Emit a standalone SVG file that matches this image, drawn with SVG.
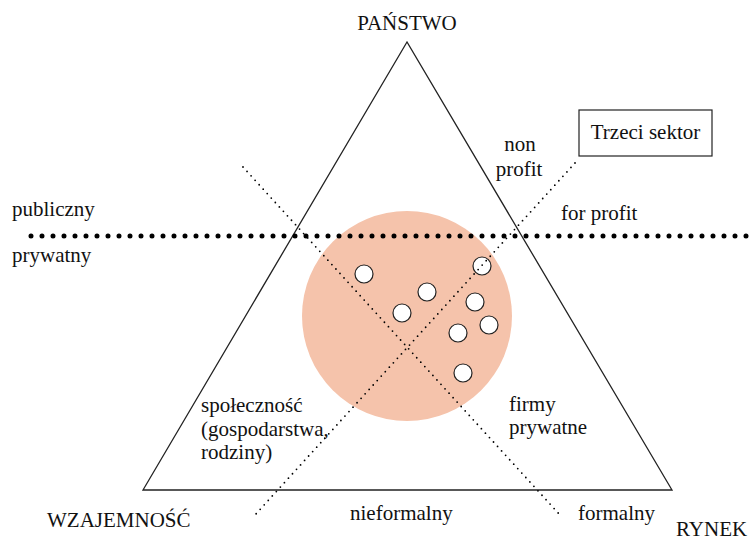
<svg xmlns="http://www.w3.org/2000/svg" width="755" height="543" viewBox="0 0 755 543">
<style>
text{font-family:"Liberation Serif","DejaVu Serif",serif;font-size:21px;fill:#111}
.mid{text-anchor:middle}
.tri{fill:none;stroke:#222;stroke-width:1.3}
.bigdots{fill:none;stroke:#000;stroke-width:5;stroke-linecap:round;stroke-dasharray:0 11}
.smalldots{fill:none;stroke:#000;stroke-width:1.8;stroke-linecap:round;stroke-dasharray:0 6}
.dot{fill:#fff;stroke:#222;stroke-width:1.2}
</style>
<rect width="755" height="543" fill="#fff"/>
<g id="sphere"><circle cx="407" cy="316" r="105" fill="#f5c3ab"/></g>
<g id="triangle"><polygon class="tri" points="407,42 143,490 672,490"/></g>
<g id="orgs">
<circle class="dot" cx="364" cy="274" r="9"/>
<circle class="dot" cx="427" cy="292" r="9"/>
<circle class="dot" cx="402" cy="313" r="9"/>
<circle class="dot" cx="482" cy="266" r="9"/>
<circle class="dot" cx="475" cy="302" r="9"/>
<circle class="dot" cx="489" cy="325" r="9"/>
<circle class="dot" cx="458" cy="333" r="9"/>
<circle class="dot" cx="463" cy="373" r="9"/>
</g>
<g id="connectors">
<line class="smalldots" x1="243" y1="167" x2="560" y2="515"/>
<line class="smalldots" x1="575" y1="163" x2="255" y2="515"/>
<line class="bigdots" x1="31" y1="236" x2="750" y2="236"/>
</g>
<g id="panstwo"><text class="mid" x="407" y="30">PAŃSTWO</text></g>
<g id="wzajemnosc"><text x="47" y="527">WZAJEMNOŚĆ</text></g>
<g id="rynek"><text x="676" y="536">RYNEK</text></g>
<g id="trzeci-sektor">
<rect x="579" y="110" width="133" height="46" fill="#fff" stroke="#222" stroke-width="1.2"/>
<text class="mid" x="645.5" y="139">Trzeci sektor</text>
</g>
<g id="labels">
<text x="12" y="216">publiczny</text>
<text x="12" y="262">prywatny</text>
<text class="mid" x="520" y="151">non</text>
<text class="mid" x="519" y="176">profit</text>
<text x="561" y="220">for profit</text>
<text x="201" y="412">społeczność</text>
<text x="201" y="436">(gospodarstwa,</text>
<text x="201" y="459">rodziny)</text>
<text x="509" y="411">firmy</text>
<text x="509" y="434">prywatne</text>
<text x="350" y="520">nieformalny</text>
<text x="578" y="520">formalny</text>
</g>
</svg>
